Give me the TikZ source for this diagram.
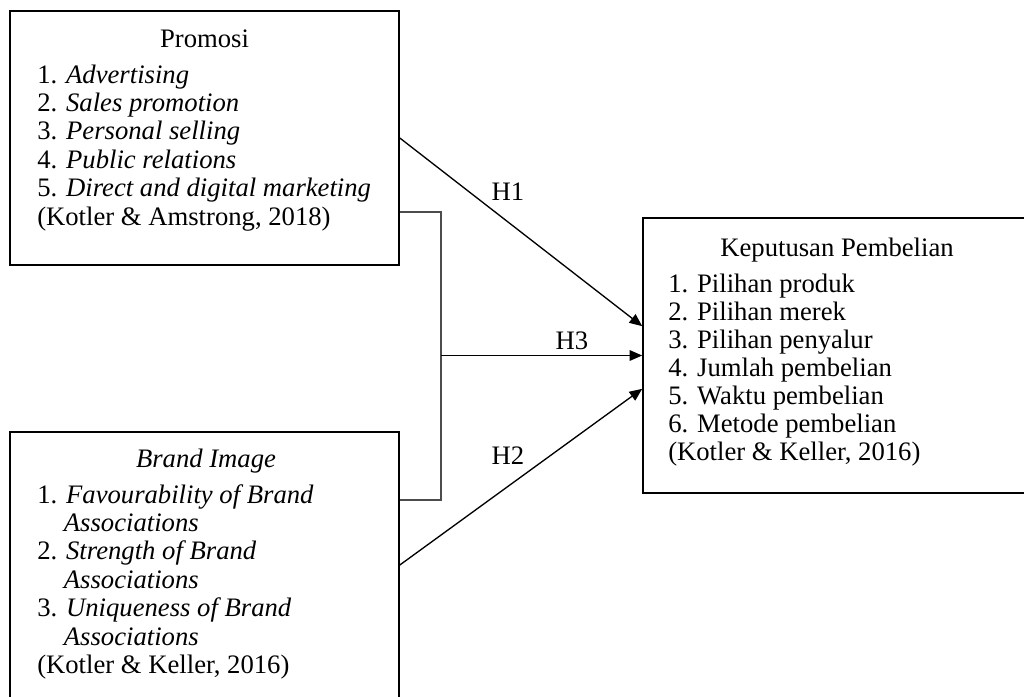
\documentclass[tikz,border=0pt]{standalone}
\usepackage{fontspec}
\setmainfont{Liberation Serif}
\usetikzlibrary{arrows.meta}

\tikzset{
    every node/.style = {font = \fontsize{20pt}{22pt}\selectfont},
    boxframe/.style = {draw, line width = 1.2pt, inner sep = 0pt},
    boxitem/.style = {anchor = base west, inner sep = 0pt},
    boxtitle/.style = {anchor = base, inner sep = 0pt},
    link/.style = {line width = 1pt, -{Triangle[length = 9.5pt, width = 8pt]}},
    bracket/.style = {line width = 1pt, black!70},
}

\begin{document}
\begin{tikzpicture}[x = .75pt, y = -.75pt]
    \useasboundingbox (0, 0) rectangle (1024, 696);

    % Promosi
    \begin{scope}
        \node [boxframe, minimum width = 291.75pt, minimum height = 190.5pt] (promosi) at (204.5, 138) {};
        \node [boxtitle] (promosi-title) at (204.5, 47) {Promosi};
        \foreach \txt [count = \i] in {
            {1. \textit{Advertising}},
            {2. \textit{Sales promotion}},
            {3. \textit{Personal selling}},
            {4. \textit{Public relations}},
            {5. \textit{Direct and digital marketing}},
            {(Kotler \& Amstrong, 2018)}}
            \node [boxitem] (promosi-\i) at (37, {83 + 28.4 * (\i - 1)}) {\txt};
    \end{scope}

    % Brand Image
    \begin{scope}
        \node [boxframe, minimum width = 291.75pt, minimum height = 199.5pt] (brand) at (204.5, 565) {};
        \node [boxtitle] (brand-title) at (206, 467) {\textit{Brand Image}};
        \foreach \txt [count = \i] in {
            {1. \textit{Favourability of Brand}},
            {\hphantom{1.}\ \textit{Associations}},
            {2. \textit{Strength of Brand}},
            {\hphantom{2.}\ \textit{Associations}},
            {3. \textit{Uniqueness of Brand}},
            {\hphantom{3.}\ \textit{Associations}},
            {(Kotler \& Keller, 2016)}}
            \node [boxitem] (brand-\i) at (37, {503 + 28.4 * (\i - 1)}) {\txt};
    \end{scope}

    % Keputusan Pembelian
    \begin{scope}
        \node [boxframe, minimum width = 291pt, minimum height = 206.25pt] (keputusan) at (837, 355.5) {};
        \node [boxtitle] (keputusan-title) at (837, 256) {Keputusan Pembelian};
        \foreach \txt [count = \i] in {
            {1. Pilihan produk},
            {2. Pilihan merek},
            {3. Pilihan penyalur},
            {4. Jumlah pembelian},
            {5. Waktu pembelian},
            {6. Metode pembelian},
            {(Kotler \& Keller, 2016)}}
            \node [boxitem] (keputusan-\i) at (668, {292 + 28.1 * (\i - 1)}) {\txt};
    \end{scope}

    % hypotheses
    \coordinate (join) at (441, 355.5);
    \draw [bracket] ([yshift = -55.5pt] promosi.east) -| (join) |- ([yshift = 48.75pt] brand.east);
    \draw [link] (promosi.east) -- ([yshift = 22pt] keputusan.west);
    \draw [link] (join) -- (keputusan.west);
    \draw [link] (brand.east) -- ([yshift = -25pt] keputusan.west);

    \node [boxtitle] (h1) at (508, 200) {H1};
    \node [boxtitle] (h3) at (572, 349) {H3};
    \node [boxtitle] (h2) at (508, 464) {H2};

\end{tikzpicture}
\end{document}
